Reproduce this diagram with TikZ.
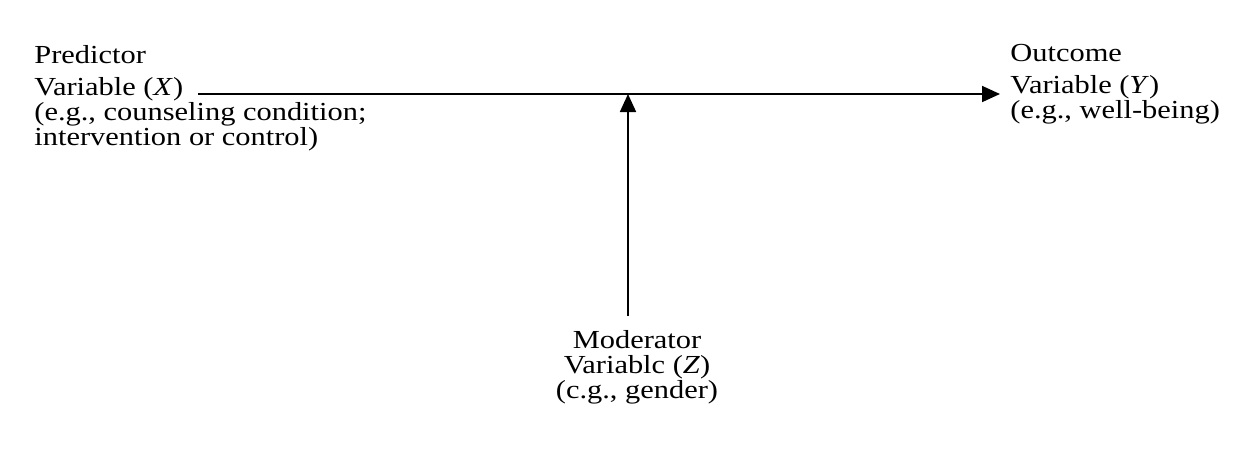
\documentclass[tikz,border=0pt]{standalone}
\usepackage{fontspec}
\setmainfont[FakeStretch=1.17]{Liberation Serif}
\usetikzlibrary{arrows.meta, positioning}

\begin{document}
\begin{tikzpicture}[
    x=0.5pt, y=-0.5pt,
    var_text/.style={
        align=left, inner sep=0pt,
        font=\fontsize{13}{12.5}\selectfont
    },
    mod_text/.style={
        align=center, inner sep=0pt,
        font=\fontsize{13}{12.5}\selectfont
    },
    effect_line/.style={
        -{Triangle[length=9pt, width=8pt]},
        black, line width=0.9pt
    }
]
\useasboundingbox (0,0) rectangle (1244,461);

% variables
\node[var_text, anchor=north west] (pred) at (34,45)
    {Predictor\\[3.5pt]Variable (\textit{X})\\(e.g., counseling condition;\\intervention or control)};
\node[var_text, anchor=north west] (out) at (1010,44)
    {Outcome\\[3.5pt]Variable (\textit{Y})\\(e.g., well-being)};
\node[mod_text, anchor=north] (mod) at (637,330)
    {Moderator\\Variablc (\textit{Z})\\(c.g., gender)};

% start of the path and junction point
\coordinate (xs) at (198,94);
\coordinate (junc) at (628,94);

% X -> Y
\draw[effect_line] (xs) -- ([xshift=-5pt]out.west |- xs);
% Z -> path
\draw[effect_line] (junc |- mod.north) ++(0,-14) -- (junc);

\end{tikzpicture}
\end{document}
